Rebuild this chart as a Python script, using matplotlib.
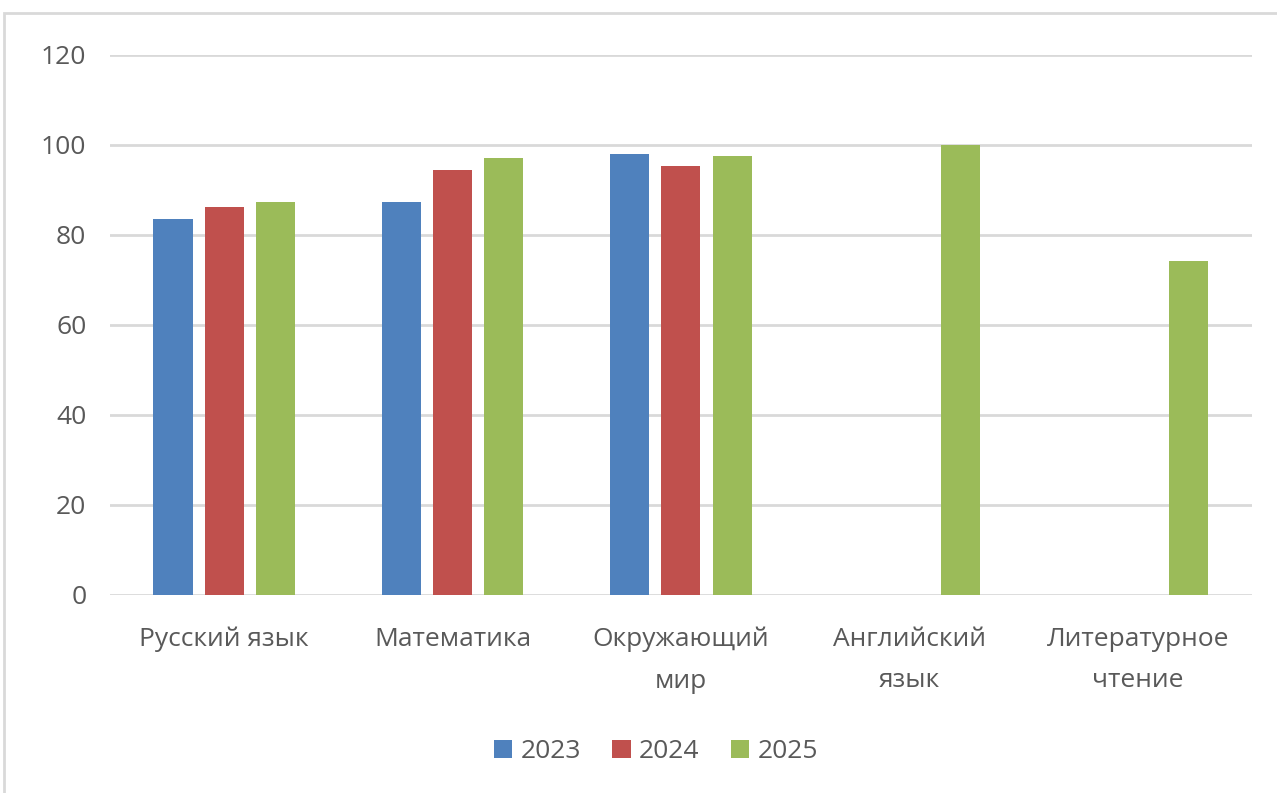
import numpy as np
import matplotlib.pyplot as plt
from matplotlib.patches import Rectangle

subjects = ['Русский язык', 'Математика', 'Окружающий\nмир', 'Английский\nязык', 'Литературное\nчтение']
years = ['2023', '2024', '2025']
y2023 = [83.6, 87.4, 98.0, 0, 0]
y2024 = [86.3, 94.5, 95.3, 0, 0]
y2025 = [87.4, 97.2, 97.6, 100, 74.2]
colors = ['#4F81BD', '#C0504D', '#9BBB59']

plt.rcParams['font.family'] = ['Open Sans', 'DejaVu Sans']
fig = plt.figure(figsize=(12.77, 7.93), dpi=100)
fig.patches.append(Rectangle((4 / 1277, -0.1), 1.2, 1 - 13 / 793 + 0.1, transform=fig.transFigure,
                             fill=False, edgecolor='#d9d9d9', linewidth=2))
ax = fig.add_axes([0.0861, 0.2497, 0.8943, 0.681])

x = np.arange(len(subjects))
w = 0.171
step = 0.224
for i, (vals, lab) in enumerate(zip([y2023, y2024, y2025], years)):
    ax.bar(x + (i - 1) * step, vals, width=w, color=colors[i], label=lab, zorder=3)

ax.set_xlim(-0.5, 4.5)
ax.set_ylim(0, 120)
ax.set_yticks(range(0, 121, 20))
ax.yaxis.grid(True, color='#d9d9d9', linewidth=2)
ax.set_axisbelow(True)
for s in ax.spines.values():
    s.set_visible(False)
ax.set_xticks(x)
ax.set_xticklabels(subjects, linespacing=1.85)
ax.tick_params(axis='both', length=0, labelsize=19, labelcolor='#595959')
ax.tick_params(axis='y', pad=17)
ax.tick_params(axis='x', pad=23)

ax.legend(loc='center', bbox_to_anchor=(0.478, -0.29), ncol=3, frameon=False, fontsize=19,
          labelcolor='#595959', handlelength=0.7, handleheight=0.7, handletextpad=0.3, columnspacing=1.2)

fig.savefig('out.png', dpi=100)
